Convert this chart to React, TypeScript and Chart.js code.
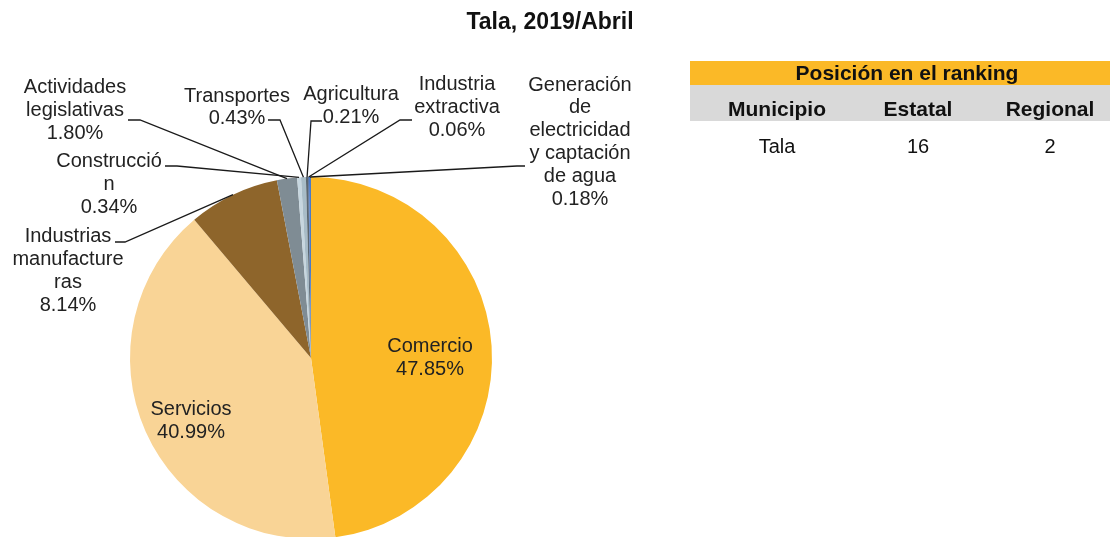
import React, { useEffect, useRef } from "react";
import { Chart, registerables } from "chart.js";

Chart.register(...registerables);

const TITLE = "Tala, 2019/Abril";

const categories = [
  "Comercio",
  "Servicios",
  "Industrias manufactureras",
  "Actividades legislativas",
  "Construcción",
  "Transportes",
  "Agricultura",
  "Industria extractiva",
  "Generación de electricidad y captación de agua",
];

const shares = [47.85, 40.99, 8.14, 1.8, 0.34, 0.43, 0.21, 0.06, 0.18];

const labelLines = [
  ["Comercio"],
  ["Servicios"],
  ["Industrias", "manufacture", "ras"],
  ["Actividades", "legislativas"],
  ["Construcció", "n"],
  ["Transportes"],
  ["Agricultura"],
  ["Industria", "extractiva"],
  ["Generación", "de", "electricidad", "y captación", "de agua"],
];

const sliceColors = [
  "#FBB927",
  "#F9D496",
  "#8E652B",
  "#7F8C94",
  "#C6D6DF",
  "#A8BCC7",
  "#5B6770",
  "#2E4F8C",
  "#4A7BC8",
];

const rankingTitle = "Posición en el ranking";
const rankingHeaders = ["Municipio", "Estatal", "Regional"];
const rankingRow = ["Tala", "16", "2"];

// label layout: text block centre offset from pie centre, optional leader (start, elbow) offsets
const labelLayout: { dx: number; dy: number; lead?: number[] }[] = [
  { dx: 119, dy: 0 },
  { dx: -120, dy: 63 },
  { dx: -243, dy: -87, lead: [-196, -116, -186, -116] },
  { dx: -236, dy: -247.5, lead: [-183, -238, -171, -238] },
  { dx: -202, dy: -173.5, lead: [-146, -192, -134, -192] },
  { dx: -74, dy: -250.5, lead: [-43, -238, -31, -238] },
  { dx: 40, dy: -252, lead: [11, -237, 0, -237] },
  { dx: 146, dy: -250.5, lead: [101, -238, 89, -238] },
  { dx: 269, dy: -216, lead: [214, -192, 206, -192] },
];

const FONT = '"Liberation Sans", Arial, sans-serif';
const LINE_H = 22.8;

const labelPlugin = {
  id: "pieLabels",
  afterDatasetsDraw(chart: any) {
    const ctx = chart.ctx as CanvasRenderingContext2D;
    const meta = chart.getDatasetMeta(0);
    const data = chart.data.datasets[0].data as number[];
    ctx.save();
    // title
    ctx.fillStyle = "#111";
    ctx.font = `bold 23px ${FONT}`;
    ctx.textAlign = "center";
    ctx.textBaseline = "middle";
    ctx.fillText(TITLE, 550, 23);

    meta.data.forEach((arc: any, i: number) => {
      const cx = arc.x;
      const cy = arc.y;
      const lay = labelLayout[i];
      const lines = [...labelLines[i], data[i].toFixed(2) + "%"];
      const bx = cx + lay.dx;
      const by = cy + lay.dy;
      if (lay.lead) {
        const mid = (arc.startAngle + arc.endAngle) / 2;
        const ex = cx + Math.cos(mid) * arc.outerRadius;
        const ey = cy + Math.sin(mid) * arc.outerRadius;
        ctx.strokeStyle = "#1a1a1a";
        ctx.lineWidth = 1.3;
        ctx.beginPath();
        ctx.moveTo(cx + lay.lead[0], cy + lay.lead[1]);
        ctx.lineTo(cx + lay.lead[2], cy + lay.lead[3]);
        ctx.lineTo(ex, ey);
        ctx.stroke();
      }
      ctx.fillStyle = "#222";
      ctx.font = `20px ${FONT}`;
      ctx.textAlign = "center";
      ctx.textBaseline = "middle";
      const top = by - ((lines.length - 1) * LINE_H) / 2;
      lines.forEach((t, k) => ctx.fillText(t, bx, top + k * LINE_H));
    });
    ctx.restore();
  },
};

export default function App() {
  const ref = useRef<HTMLCanvasElement>(null);
  useEffect(() => {
    if (!ref.current) return;
    const chart = new Chart(ref.current, {
      type: "pie",
      data: {
        labels: categories,
        datasets: [
          {
            data: shares,
            backgroundColor: sliceColors,
            borderWidth: 0,
          },
        ],
      },
      options: {
        responsive: false,
        animation: false,
        events: [],
        layout: { padding: { left: 130, right: 618, top: 177, bottom: 21 } },
        plugins: {
          legend: { display: false },
          tooltip: { enabled: false },
          title: { display: false },
        },
      },
      plugins: [labelPlugin],
    });
    return () => chart.destroy();
  }, []);

  const cell = (text: string, x: number, y: number, bold: boolean, size: number) => (
    <div
      key={text + x}
      style={{
        position: "absolute",
        left: x - 200,
        width: 400,
        top: y - 15,
        height: 30,
        lineHeight: "30px",
        textAlign: "center",
        whiteSpace: "nowrap",
        fontWeight: bold ? "bold" : "normal",
        fontSize: size,
        fontFamily: FONT,
        color: "#111",
      }}
    >
      {text}
    </div>
  );

  const colX = [777, 918, 1050];

  return (
    <div
      style={{
        position: "fixed",
        left: 0,
        top: 0,
        width: 1110,
        height: 537,
        overflow: "hidden",
        background: "#fff",
      }}
    >
      <canvas ref={ref} width={1110} height={560} style={{ position: "absolute", left: 0, top: 0 }} />
      <div style={{ position: "absolute", left: 690, top: 61, width: 440, height: 24, background: "#FBB927" }} />
      <div style={{ position: "absolute", left: 690, top: 85, width: 440, height: 36, background: "#D9D9D9" }} />
      {cell(rankingTitle, 907, 73, true, 21)}
      {rankingHeaders.map((h, i) => cell(h, colX[i], 109, true, 21))}
      {rankingRow.map((h, i) => cell(h, colX[i], 146, false, 20))}
    </div>
  );
}
